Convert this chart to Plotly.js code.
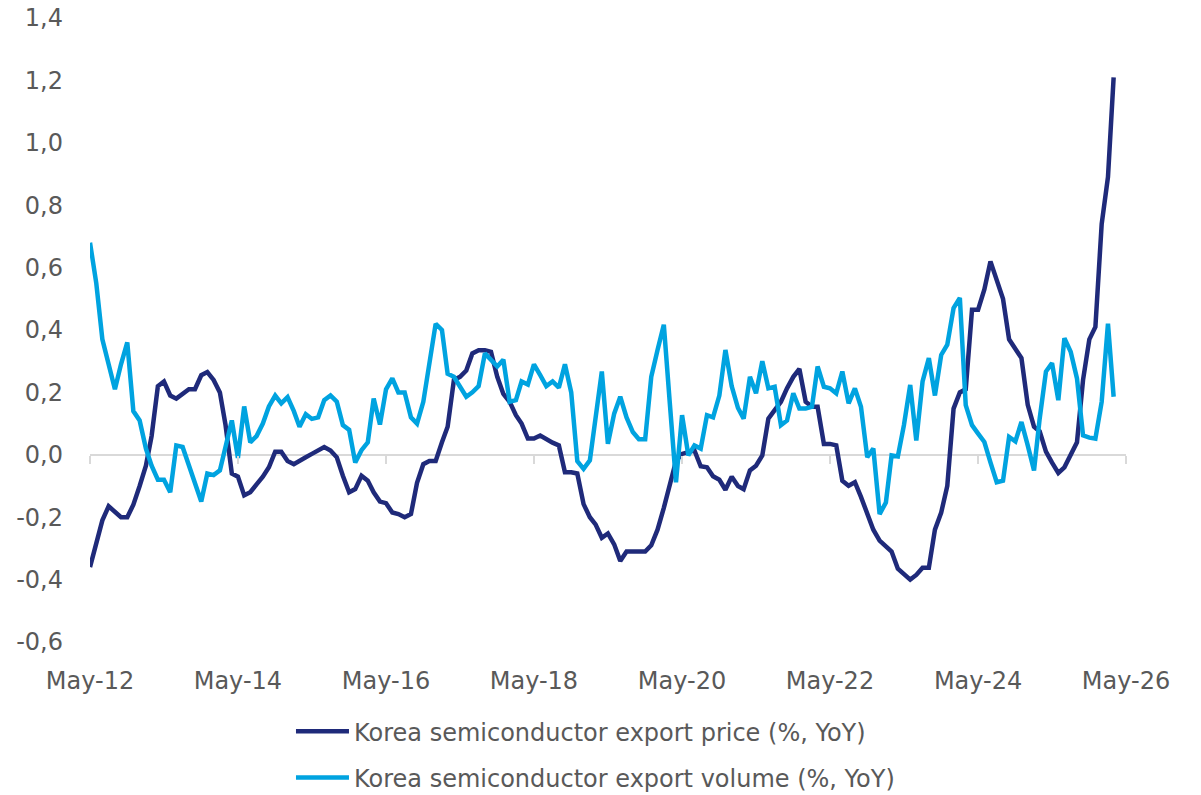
<!DOCTYPE html>
<html>
<head>
<meta charset="utf-8">
<script src="https://cdn.plot.ly/plotly-3.0.1.min.js"></script>
<style>html,body{margin:0;padding:0;background:#fff;}</style>
</head>
<body>
<div id="chart" style="width:1201px;height:795px;"></div>
<script>
// Monthly series, first month May 2012
const startYear = 2012;
const startMonth = 5;

const exportPrice = [
 -0.36,-0.28,-0.21,-0.165,-0.185,-0.20,-0.20,-0.16,-0.10,-0.035,
 0.06,0.22,0.235,0.19,0.18,0.195,0.21,0.21,0.255,0.265,
 0.24,0.20,0.095,-0.06,-0.07,-0.13,-0.12,-0.095,-0.07,-0.04,
 0.01,0.01,-0.02,-0.03,-0.018,-0.008,0.003,0.015,0.025,0.014,
 -0.008,-0.067,-0.12,-0.11,-0.067,-0.083,-0.12,-0.15,-0.155,-0.185,
 -0.19,-0.20,-0.19,-0.09,-0.03,-0.02,-0.02,0.04,0.09,0.24,
 0.25,0.27,0.325,0.335,0.335,0.33,0.25,0.195,0.17,0.127,
 0.10,0.052,0.052,0.062,0.05,0.039,0.03,-0.056,-0.056,-0.06,
 -0.158,-0.20,-0.223,-0.266,-0.252,-0.287,-0.34,-0.31,-0.31,-0.31,
 -0.31,-0.29,-0.24,-0.17,-0.10,-0.02,0.003,0.009,0.014,-0.037,
 -0.04,-0.069,-0.08,-0.112,-0.07,-0.10,-0.11,-0.05,-0.035,-0.002,
 0.116,0.143,0.17,0.213,0.25,0.275,0.17,0.154,0.154,0.035,
 0.035,0.03,-0.083,-0.099,-0.088,-0.135,-0.19,-0.24,-0.275,-0.295,
 -0.31,-0.365,-0.38,-0.40,-0.385,-0.362,-0.362,-0.24,-0.185,-0.10,
 0.148,0.20,0.21,0.465,0.465,0.53,0.62,0.56,0.50,0.37,
 0.336,0.31,0.16,0.09,0.075,0.01,-0.025,-0.058,-0.04,0.0,
 0.04,0.24,0.37,0.41,0.74,0.89,1.21
];

const exportVolume = [
 0.68,0.55,0.37,0.29,0.21,0.29,0.36,0.14,0.11,0.02,
 -0.035,-0.08,-0.08,-0.12,0.03,0.025,-0.035,-0.10,-0.15,-0.06,
 -0.065,-0.05,0.03,0.11,-0.01,0.155,0.04,0.06,0.10,0.155,
 0.19,0.165,0.185,0.14,0.09,0.13,0.115,0.12,0.175,0.19,
 0.17,0.095,0.08,-0.025,0.015,0.04,0.18,0.097,0.21,0.245,
 0.20,0.20,0.12,0.10,0.17,0.29,0.42,0.40,0.26,0.25,
 0.22,0.186,0.20,0.22,0.325,0.305,0.283,0.305,0.17,0.175,
 0.235,0.225,0.29,0.255,0.22,0.235,0.215,0.29,0.20,-0.02,
 -0.045,-0.018,0.127,0.267,0.035,0.132,0.186,0.12,0.073,0.05,
 0.05,0.25,0.336,0.417,0.17,-0.088,0.127,-0.002,0.03,0.02,
 0.127,0.12,0.19,0.336,0.22,0.15,0.116,0.25,0.197,0.30,
 0.213,0.218,0.095,0.11,0.197,0.148,0.148,0.154,0.283,0.218,
 0.213,0.197,0.267,0.165,0.213,0.154,-0.008,0.02,-0.19,-0.153,
 -0.002,-0.005,0.095,0.224,0.046,0.235,0.31,0.19,0.32,0.353,
 0.47,0.503,0.159,0.095,0.068,0.041,-0.024,-0.088,-0.083,0.057,
 0.043,0.105,0.03,-0.05,0.116,0.267,0.294,0.175,0.374,0.33,
 0.245,0.062,0.055,0.052,0.17,0.42,0.186
];

const tickDates = ['2012-05-01','2014-05-01','2016-05-01','2018-05-01','2020-05-01','2022-05-01','2024-05-01','2026-05-01'];
const tickLabels = ['May-12','May-14','May-16','May-18','May-20','May-22','May-24','May-26'];

const yTickValues = [-0.6,-0.4,-0.2,0,0.2,0.4,0.6,0.8,1.0,1.2,1.4];
const yTickLabels = ['-0,6','-0,4','-0,2','0,0','0,2','0,4','0,6','0,8','1,0','1,2','1,4'];

const seriesNames = ['Korea semiconductor export price (%, YoY)','Korea semiconductor export volume (%, YoY)'];
const seriesColors = ['#1f2a7a','#00a3e0'];

function monthDate(i){
  const t = (startMonth - 1) + i;
  const y = startYear + Math.floor(t / 12);
  const m = (t % 12) + 1;
  return y + '-' + String(m).padStart(2,'0') + '-01';
}
const dates = exportPrice.map((_, i) => monthDate(i));

const xRange = [tickDates[0], tickDates[tickDates.length-1]];
const FONT = 'DejaVu Sans, Noto Sans, sans-serif';

const traces = [
  {x: dates, y: exportPrice, type:'scatter', mode:'lines', name: seriesNames[0],
   line:{color: seriesColors[0], width:4.5}, legendgroup:'a'},
  {x: dates, y: exportVolume, type:'scatter', mode:'lines', name: seriesNames[1],
   line:{color: seriesColors[1], width:4.5}, legendgroup:'b'},
  {x: [dates[0]], y: [null], xaxis:'x2', yaxis:'y', type:'scatter', mode:'lines',
   showlegend:false, hoverinfo:'skip'}
];

const layout = {
  width:1201, height:795,
  margin:{l:90, r:75, t:18, b:153, autoexpand:false},
  paper_bgcolor:'#fff', plot_bgcolor:'#fff',
  separators:', ',
  font:{family:FONT, color:'#595959', size:24},
  showlegend:true,
  xaxis:{type:'date', range:xRange, tickvals:tickDates, ticktext:tickLabels,
    showgrid:false, zeroline:false, showline:false, ticks:'', automargin:false,
    ticklabelstandoff:22, tickfont:{family:FONT, size:24, color:'#595959'}},
  xaxis2:{type:'date', overlaying:'x', anchor:'free', position:0.3, range:xRange,
    tickvals:tickDates, showticklabels:false, ticks:'outside', ticklen:8,
    tickcolor:'#d9d9d9', tickwidth:2, showline:false, showgrid:false, zeroline:false, automargin:false},
  yaxis:{range:[-0.6,1.4], tickvals:yTickValues, ticktext:yTickLabels,
    showgrid:false, zeroline:true, zerolinecolor:'#d9d9d9', zerolinewidth:2,
    showline:false, ticks:'', automargin:false, ticklabelstandoff:26,
    tickfont:{family:FONT, size:24, color:'#595959'}},
  legend:{orientation:'v', x:0.194, xanchor:'left', yref:'container', y:0.108, yanchor:'top',
    font:{family:FONT, size:24, color:'#595959'}, tracegroupgap:12, bgcolor:'rgba(0,0,0,0)',
    itemwidth:53}
};

Plotly.newPlot('chart', traces, layout, {displayModeBar:false, staticPlot:true});
</script>
</body>
</html>
